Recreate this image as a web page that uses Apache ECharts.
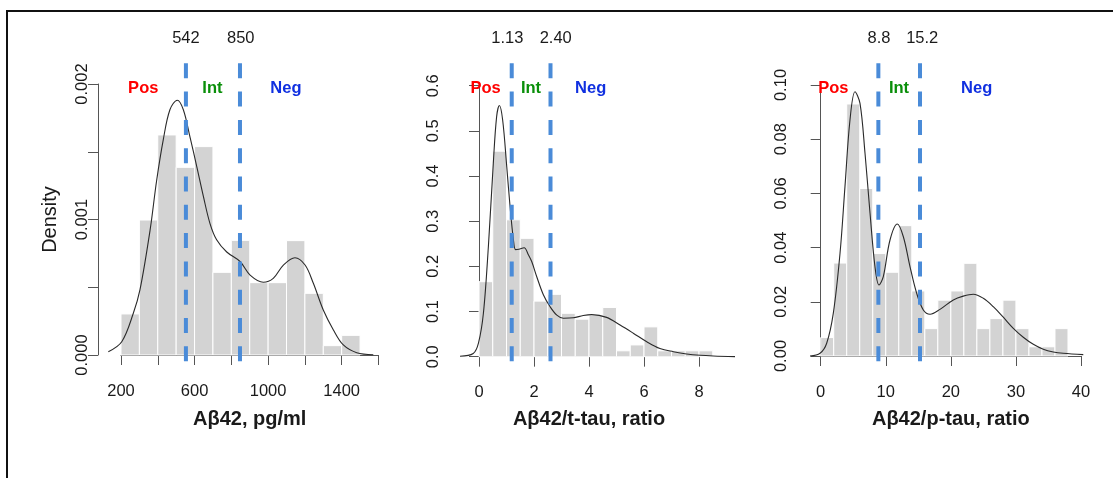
<!DOCTYPE html>
<html><head><meta charset="utf-8">
<script src="https://cdn.jsdelivr.net/npm/echarts@6/dist/echarts.min.js"></script>
<style>html,body{margin:0;padding:0;background:#fff}#c{width:1113px;height:478px}</style>
</head><body><div id="c"></div>
<script>
// ---------- DATA ----------
// Panel 1: Abeta42, pg/ml
const ab42Edges = [200,300,400,500,600,700,800,900,1000,1100,1200,1300,1400,1500];
const ab42Density = [0.000303,0.000996,0.001624,0.001385,0.001538,0.00061,0.000846,0.000534,0.000534,0.000844,0.000455,0.000069,0.000145];
const ab42CurveX = [131,204,267,303,358,394,430,466,506,539,575,612,648,684,720,775,847,902,974,1028,1083,1146,1201,1246,1300,1355,1409,1482,1572];
const ab42CurveY = [0.000024,0.000098,0.000308,0.00048,0.00092,0.00129,0.00159,0.00181,0.00188,0.00181,0.00161,0.00139,0.00117,0.00097,0.00085,0.00076,0.00069,0.00059,0.000537,0.000566,0.000664,0.000718,0.000664,0.000529,0.000332,0.000185,0.000074,0.000017,0.000002];
const ab42Cuts = [553, 847];
const ab42CutLabels = ['542', '850'];
const ab42XTicks = [200, 600, 1000, 1400];

// Panel 2: Abeta42/t-tau ratio
const ttauEdges = [0,0.5,1,1.5,2,2.5,3,3.5,4,4.5,5,5.5,6,6.5,7,7.5,8,8.5];
const ttauDensity = [0.166,0.455,0.303,0.262,0.123,0.138,0.096,0.083,0.092,0.109,0.013,0.026,0.066,0.013,0.013,0.013,0.013];
const ttauCurveX = [-0.69,-0.21,-0.02,0.16,0.34,0.52,0.64,0.74,0.86,1.01,1.13,1.25,1.33,1.45,1.64,1.8,1.92,2.1,2.34,2.58,2.83,3.07,3.43,3.79,4.1,4.64,5.13,5.61,6.1,6.58,7.07,7.55,8.04,8.52,9.31];
const ttauCurveY = [0.001,0.007,0.03,0.096,0.243,0.428,0.531,0.556,0.524,0.42,0.332,0.26,0.237,0.238,0.241,0.225,0.21,0.177,0.137,0.111,0.092,0.085,0.086,0.091,0.093,0.087,0.07,0.052,0.033,0.018,0.011,0.006,0.003,0.0015,0.0002];
const ttauCuts = [1.19, 2.6];
const ttauCutLabels = ['1.13', '2.40'];

// Panel 3: Abeta42/p-tau ratio
const ptauEdges = [0,2,4,6,8,10,12,14,16,18,20,22,24,26,28,30,32,34,36,38];
const ptauDensity = [0.0068,0.0343,0.093,0.0618,0.0378,0.0309,0.0481,0.024,0.0101,0.0206,0.024,0.0342,0.0101,0.0138,0.0206,0.0101,0.0034,0.0034,0.0101];
const ptauCurveX = [-1.64,-0.1,0.92,1.94,2.97,3.73,4.5,5.27,6.04,6.81,7.58,8.34,8.96,9.62,10.65,11.77,12.7,13.72,14.75,15.77,16.8,18.33,20.38,21.9,23.45,24.99,26.52,28.06,29.6,31.13,32.67,34.2,35.74,37.28,40.35];
const ptauCurveY = [0,0.001,0.0047,0.0158,0.0379,0.0625,0.0871,0.0975,0.0932,0.0748,0.0527,0.033,0.0262,0.0293,0.0428,0.0487,0.044,0.033,0.0231,0.017,0.0154,0.0172,0.0207,0.0221,0.0228,0.0213,0.0182,0.0143,0.0102,0.0069,0.0043,0.0025,0.0015,0.001,0.0005];
const ptauCuts = [8.86, 15.26];
const ptauCutLabels = ['8.8', '15.2'];

const zoneLabels = ['Pos', 'Int', 'Neg'];

// ---------- LAYOUT ----------
const FONT = '"Liberation Sans", Arial, sans-serif';
const zoneColors = ['#ff0000', '#0a8f0a', '#1030e0'];
const panels = [
  { edges: ab42Edges, dens: ab42Density, cx: ab42CurveX, cy: ab42CurveY, cuts: ab42Cuts, cutLabels: ab42CutLabels,
    left: 121, width: 257.45, top: 84, height: 271, xMin: 200, xMax: 1600, xInt: 200, yMax: 0.002, yInt: 0.0005,
    dMin: 40, dMax: 1700,
    xOff: 12, yOff: 23, title: 'Aβ42, pg/ml', yName: 'Density',
    xFmt: v => (ab42XTicks.indexOf(Math.round(v)) >= 0 ? String(Math.round(v)) : ''),
    yFmt: v => (Math.abs(v * 1000 - Math.round(v * 1000)) < 1e-6 ? v.toFixed(3) : ''),
    numX: [553, 851], zoneX: [321, 697, 1097] },
  { edges: ttauEdges, dens: ttauDensity, cx: ttauCurveX, cy: ttauCurveY, cuts: ttauCuts, cutLabels: ttauCutLabels,
    left: 479, width: 220, top: 85.67, height: 271, xMin: 0, xMax: 8, xInt: 2, yMax: 0.6, yInt: 0.1,
    dMin: -1.5, dMax: 10,
    xOff: 11, yOff: 29.7, title: 'Aβ42/t-tau, ratio', yName: '',
    xFmt: v => String(Math.round(v)), yFmt: v => v.toFixed(1),
    numX: [1.03, 2.79], zoneX: [0.24, 1.89, 4.06] },
  { edges: ptauEdges, dens: ptauDensity, cx: ptauCurveX, cy: ptauCurveY, cuts: ptauCuts, cutLabels: ptauCutLabels,
    left: 820.7, width: 260.3, top: 85, height: 271, xMin: 0, xMax: 40, xInt: 10, yMax: 0.1, yInt: 0.02,
    dMin: -3, dMax: 43,
    xOff: 11.7, yOff: 24, title: 'Aβ42/p-tau, ratio', yName: '',
    xFmt: v => String(Math.round(v)), yFmt: v => v.toFixed(2),
    numX: [8.96, 15.6], zoneX: [1.94, 12.03, 23.97] }
];

const grid = [], xAxis = [], yAxis = [], series = [];
const axisColor = '#555';
const N = panels.length;
// display grids (visible axes only)
panels.forEach((p, i) => {
  grid.push({ left: p.left, top: p.top, width: p.width, height: p.height, containLabel: false });
  xAxis.push({
    type: 'value', gridIndex: i, min: p.xMin, max: p.xMax, interval: p.xInt, offset: p.xOff,
    axisLine: { show: true, lineStyle: { color: axisColor, width: 1 } },
    axisTick: { show: true, length: 10, lineStyle: { color: axisColor } },
    splitLine: { show: false },
    axisLabel: { formatter: p.xFmt, color: '#1a1a1a', fontSize: 16.5, fontFamily: FONT, margin: 16, showMinLabel: true, showMaxLabel: true },
    name: p.title, nameLocation: 'middle', nameGap: 42,
    nameTextStyle: { fontSize: 20, fontWeight: 'bold', color: '#1a1a1a', fontFamily: FONT }
  });
  yAxis.push({
    type: 'value', gridIndex: i, min: 0, max: p.yMax, interval: p.yInt, offset: p.yOff,
    axisLine: { show: true, lineStyle: { color: axisColor, width: 1 } },
    axisTick: { show: true, length: 10, lineStyle: { color: axisColor } },
    splitLine: { show: false },
    axisLabel: { formatter: p.yFmt, rotate: 90, color: '#1a1a1a', fontSize: 16.5, fontFamily: FONT, margin: 7, showMinLabel: true, showMaxLabel: true },
    name: p.yName, nameLocation: 'middle', nameGap: 38,
    nameTextStyle: { fontSize: 20, color: '#1a1a1a', fontFamily: FONT }
  });
});
// data grids (hidden axes, wider x range, same scale)
panels.forEach((p, i) => {
  const g = N + i;
  const pxPerX = p.width / (p.xMax - p.xMin);
  grid.push({ left: p.left + (p.dMin - p.xMin) * pxPerX, top: p.top, width: (p.dMax - p.dMin) * pxPerX, height: p.height, containLabel: false });
  xAxis.push({ type: 'value', gridIndex: g, min: p.dMin, max: p.dMax, show: false });
  yAxis.push({ type: 'value', gridIndex: g, min: 0, max: p.yMax, show: false });

  // histogram bars
  const bars = p.dens.map((d, k) => [p.edges[k], p.edges[k + 1], d]);
  series.push({
    type: 'custom', xAxisIndex: g, yAxisIndex: g, silent: true, clip: false, z: 1,
    encode: { x: [0, 1], y: 2 },
    data: bars,
    renderItem: (params, api) => {
      const a = api.coord([api.value(0), api.value(2)]);
      const b = api.coord([api.value(1), 0]);
      return { type: 'rect', shape: { x: a[0], y: a[1], width: b[0] - a[0], height: b[1] - a[1] },
               style: { fill: '#d3d3d3', stroke: '#ffffff', lineWidth: 1 } };
    }
  });
  // density curve
  series.push({
    type: 'line', xAxisIndex: g, yAxisIndex: g, silent: true, clip: false, z: 3,
    data: p.cx.map((x, k) => [x, p.cy[k]]), symbol: 'none', smooth: 0.35,
    lineStyle: { color: '#2a2a2a', width: 1.1 }
  });
  // dashed cut lines (span pixel 63.3 .. 361.7 vertically)
  const pxPerY = p.height / p.yMax, zeroPx = p.top + p.height;
  const yTop = (zeroPx - 63.3) / pxPerY, yBot = (zeroPx - 361.7) / pxPerY;
  p.cuts.forEach(c => {
    series.push({
      type: 'line', xAxisIndex: g, yAxisIndex: g, silent: true, clip: false, z: 4,
      data: [[c, yTop], [c, yBot]], symbol: 'none',
      lineStyle: { color: '#4a8bd8', width: 4, type: [15, 13.3], cap: 'butt' }
    });
  });
  // text annotations
  const texts = [];
  p.cutLabels.forEach((t, k) => texts.push({ x: p.numX[k], py: 38.3, text: t, color: '#1a1a1a', bold: false }));
  zoneLabels.forEach((t, k) => texts.push({ x: p.zoneX[k], py: 88.3, text: t, color: zoneColors[k], bold: true }));
  series.push({
    type: 'custom', xAxisIndex: g, yAxisIndex: g, silent: true, clip: false, z: 5,
    encode: { x: 0, y: 1 },
    data: texts.map(t => [t.x, 0]),
    renderItem: (params, api) => {
      const t = texts[params.dataIndex];
      const pt = api.coord([api.value(0), 0]);
      return { type: 'text', x: pt[0], y: t.py,
               style: { text: t.text, fill: t.color, align: 'center', verticalAlign: 'middle',
                        font: (t.bold ? 'bold ' : '') + '16.5px ' + FONT } };
    }
  });
});

const chart = echarts.init(document.getElementById('c'), null, { renderer: 'canvas' });
chart.setOption({
  animation: false,
  backgroundColor: '#ffffff',
  grid, xAxis, yAxis, series,
  graphic: [
    { type: 'line', shape: { x1: 6, y1: 11, x2: 1113, y2: 11 }, style: { stroke: '#111', lineWidth: 2 } },
    { type: 'line', shape: { x1: 7, y1: 10, x2: 7, y2: 478 }, style: { stroke: '#111', lineWidth: 2 } }
  ]
});
</script></body></html>
